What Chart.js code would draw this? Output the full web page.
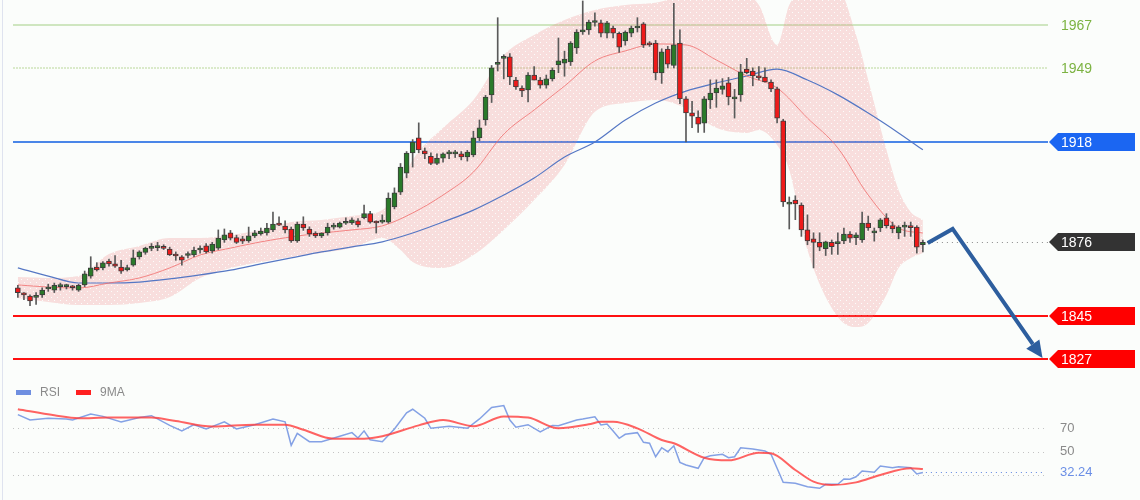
<!DOCTYPE html>
<html>
<head>
<meta charset="utf-8">
<script src="https://cdn.jsdelivr.net/npm/chart.js@4.4.1/dist/chart.umd.min.js"></script>
<style>
  html, body { margin: 0; padding: 0; background: #fbfdfb; }
  #wrap { position: relative; width: 1140px; height: 500px; overflow: hidden; }
  #edge { position: absolute; left: 2px; top: 0; width: 1px; height: 500px; background: #dfe3ef; }
  #priceChart { position: absolute; left: 0; top: 0; }
  #rsiChart { position: absolute; left: 0; top: 372px; }
</style>
</head>
<body>
<div id="wrap">
  <canvas id="priceChart" width="1140" height="372"></canvas>
  <canvas id="rsiChart" width="1140" height="128"></canvas>
  <div id="edge"></div>
</div>
<script>
// --- candles (one per bar, left to right) ---
const opens = [1857,1854.5,1853.5,1853,1854,1856.5,1856,1857.5,1857.5,1857.3,1856,1858.2,1861.9,1865.7,1865.3,1868.2,1867,1865.7,1864.5,1866.5,
  1869.9,1871.8,1873.5,1873.8,1873.8,1873.2,1871,1869.9,1870.5,1870.7,1872.8,1874.5,1872.4,1873.6,1877,1880,1878,1877.5,1876.6,1878.7,
  1879.5,1880,1881.2,1884,1882.8,1881.6,1876.6,1883.7,1881.6,1879.9,1878.7,1879.9,1882.4,1882.4,1884,1884.1,1885,1886.3,1888,1884.5,
  1884.5,1884.5,1890.8,1897,1905,1913.4,1919.7,1914.3,1912,1909,1911.2,1913,1913,1913,1911.7,1912.6,1919.7,1927.2,1937.7,1950.5,
  1953,1953.6,1943.9,1940.6,1939.8,1946,1943.9,1941.8,1944.4,1950.2,1951,1951.5,1957.3,1964,1964.9,1968,1967.8,1963.5,1965.7,1963.5,
  1960.3,1963.5,1965.7,1967.4,1959.4,1959.4,1946.9,1956.9,1950,1959.4,1936,1930.2,1928.4,1925.9,1935.6,1938.5,1940,1942.7,1936,1937.7,
  1948.5,1947.7,1945.6,1945.2,1943.1,1940.2,1926.8,1892,1893.7,1891.6,1881.2,1877.5,1876,1873.4,1876,1875.5,1876.6,1879.5,1878,1877,
  1884.1,1880,1882,1886.3,1883,1880,1882.4,1882.4,1882.4,1875];
const highs = [1858,1855,1854,1855,1857,1858.5,1859,1859,1858.5,1858,1858.5,1864,1870,1867.5,1868,1869,1870.5,1868.5,1866.5,1872.8,
  1872.5,1874,1875.5,1876,1875,1874,1872,1870.5,1872,1874,1874.5,1875.5,1876,1881.2,1881.6,1881,1879,1878.5,1882.4,1881,
  1882,1884,1888.7,1886.7,1885,1882.4,1884.5,1886.7,1882.5,1880.5,1880,1884,1884,1884.5,1886.3,1886.3,1886,1891.6,1889,1885,
  1887.5,1896.7,1898.8,1909,1914,1919,1926,1915.5,1913.5,1913,1913.5,1914.5,1914.5,1914,1914.5,1922.5,1927.2,1937.5,1950,1970,
  1954.5,1955,1945,1941.5,1947,1949.5,1945,1946,1949,1961.5,1956,1960,1965,1977,1969,1972,1969,1968.5,1966.5,1964,
  1964.5,1966.5,1970,1968,1960,1960.5,1957,1958,1976,1964.9,1937,1935,1931,1937,1944,1944,1944.5,1945,1940,1950.5,
  1953,1949,1949.5,1949,1944,1941,1927.5,1895,1895.5,1892.5,1887.5,1880,1880,1876.5,1877,1880,1882,1880.5,1880,1888.7,
  1887,1882,1886,1888,1884.5,1883,1884.5,1884.5,1883,1877];
const lows = [1853,1852,1849.5,1850,1853,1855.5,1855,1856,1856.5,1856,1855.5,1857.5,1861,1864,1864.5,1866,1865.5,1863,1864,1866,
  1869,1871,1872.5,1872.5,1873,1870.5,1868.5,1866.5,1869.5,1870,1871.5,1871.5,1871.5,1873,1876,1877,1875.5,1875.5,1876,1878,
  1879,1879,1880.5,1883,1880,1876,1876,1881,1878.5,1878,1878,1879,1881.5,1882,1883.5,1883.5,1882.5,1885.8,1884,1879.9,
  1884,1884,1890,1896,1903,1907.5,1913.5,1911,1908.5,1908.5,1909.5,1911,1911.5,1910.5,1910,1911.8,1918.5,1925,1934.5,1947.7,
  1944.4,1942,1940,1937,1934.8,1944,1940.5,1940.5,1943.5,1947,1945.5,1950,1955,1963,1963,1966.5,1962,1961.5,1961.5,1955.5,
  1958.5,1962,1964,1957.5,1958,1944,1942.5,1949,1949,1934,1918,1924,1922,1922,1932,1932.5,1938,1933.5,1928,1935,
  1946.5,1941.5,1944,1943,1939,1926,1891,1881.6,1885.5,1878.5,1875,1865.3,1872.5,1870.5,1871,1871,1875.5,1876,1875,1876,
  1881,1876.5,1880.5,1882,1880,1877.5,1878.5,1878.5,1871.5,1872];
const closes = [1855,1854,1851.5,1853.5,1856,1857,1858,1857.6,1857.7,1857,1858,1862.8,1865.3,1864.5,1867.4,1867,1866,1864,1865.5,1869.5,
  1872,1873.6,1873.8,1873.9,1873.5,1870.7,1870.3,1868.5,1870.7,1872.8,1873.4,1872,1875.3,1877.8,1879.1,1877.8,1876,1876.5,1878.7,1880,
  1880.7,1882,1883.7,1883.2,1881.2,1876.6,1883.7,1882,1879.5,1878.7,1879.9,1882.4,1882.6,1884.1,1884.2,1885.4,1883.3,1888,1884.5,1884.1,
  1884.6,1894.5,1896.7,1907.5,1913.4,1918,1914.7,1913,1909,1911.2,1913,1913.2,1913.2,1911.7,1913.8,1919.7,1923.9,1936.8,1949,1951,
  1953.6,1945.2,1941,1939.4,1946,1943.9,1941.8,1944.4,1948.1,1951.9,1952.7,1959.4,1964,1964.9,1968.2,1968.6,1963.5,1967.8,1963.5,1957.7,
  1964,1965.7,1966,1958.6,1958.6,1946.9,1955.7,1950.6,1958.6,1936,1930.2,1928.8,1925.5,1936,1938.5,1940.6,1941.5,1936.8,1936.8,1947.3,
  1947,1945.6,1944.8,1943.1,1940.2,1928,1892.9,1892.8,1892.1,1881.2,1876.6,1876,1874,1876.2,1874.2,1876,1879.5,1877.8,1879.1,1884.1,
  1882,1880.5,1885.4,1883,1881.6,1882.4,1882.6,1882.2,1874,1876];

// --- bollinger band, sampled at these bar positions ---
const bandIdx = [0,5,10,15,20,25,30,35,40,45,50,55,60,63,65,70,75,80,85,90,95,100,105,110,115,120,122,125,127,130,135,138,140,143,145,147,149];
const bandUpper = [1861.5,1861.1,1861.9,1871.1,1874.5,1877.8,1877.8,1879.1,1881.2,1884.5,1885.4,1887.0,1889.5,1900.0,1910.5,1923.9,1935.6,1954.4,1962.8,1969.0,
  1973.2,1975.3,1976.2,1979.5,1980.8,1979.5,1975.3,1958.6,1975.3,1981.6,1981.6,1962.8,1943.9,1914.7,1897.9,1888.7,1885.4];
const bandLower = [1852.7,1851.1,1849.8,1849.8,1850.6,1853.1,1861.1,1865.3,1867.8,1869.9,1871.6,1873.6,1877.8,1872.8,1867.8,1865.3,1870.7,1881.2,1893.7,1908.4,
  1930.6,1934.3,1935.6,1932.2,1923.9,1921.8,1923.0,1916.7,1906.3,1872.8,1844.8,1840.6,1842.3,1854.0,1865.3,1869.5,1871.6];

// --- moving averages, sampled ---
const maIdx = [0,5,10,15,20,25,30,35,40,45,50,55,60,65,70,75,80,85,90,95,100,105,110,115,120,125,130,135,140,145,149];
const maShort = [1858.2,1857.3,1856.9,1859.0,1861.1,1865.3,1870.7,1873.6,1876.2,1878.3,1879.9,1881.2,1882.9,1888.3,1895.8,1905.4,1921.3,1931.4,1941.4,1951.9,
  1956.1,1959.0,1958.6,1952.3,1945.6,1940.6,1928.0,1915.5,1895.8,1882.0,1879.9];
const maLong = [1865.3,1861.9,1859.0,1859.0,1859.4,1860.7,1862.4,1864.4,1867.0,1869.5,1872.0,1874.1,1876.2,1879.9,1884.5,1889.5,1895.8,1902.9,1911.7,1918.0,
  1927.2,1934.3,1939.3,1942.7,1945.6,1948.5,1943.9,1937.7,1930.1,1921.8,1914.7];

// --- levels and projection arrow ---
const levels = [1967, 1949, 1918, 1876, 1845, 1827];
const arrowIdx = [149.8, 153.9, 168.7];
const arrowPrice = [1875.7, 1881.6, 1827.6];

// --- RSI panel ---
const rsiIdx = [0,2,5,8,9,12,14,17,20,22,25,27,29,31,34,36,39,42,44,45,46,48,50,53,55,56,57,58,60,62,
  64,65,67,68,71,74,76,78,80,81,82,84,86,88,89,92,93,95,96,97,98,99,100,102,103,104,105,106,107,108,
  109,110,112,113,114,116,117,118,119,121,123,124,125,126,128,130,132,133,135,136,137,138,139,141,142,144,145,147,148,149];
const rsiVals = [81.7,77.1,78.6,78.0,77.1,82.3,80.2,75.5,79.2,80.8,72.5,67.8,73.1,69.4,75.5,69.4,73.1,78.0,75.5,55.5,65.7,58.6,58.6,63.2,66.3,61.7,67.8,60.2,58.6,69.4,
  83.2,86.3,78.6,70.0,71.8,70.0,78.0,87.8,89.4,77.1,70.9,73.1,66.9,72.5,72.2,77.1,77.9,79.9,72.8,73.7,67.7,61.5,64.9,66.3,58.0,57.2,45.7,53.4,50.0,55.1,
  40.9,38.6,35.8,44.9,46.6,47.8,44.9,45.7,53.4,52.3,50.6,47.8,35.8,23.8,23.0,20.1,18.7,22.1,22.1,26.7,26.5,28.6,33.5,32.4,37.8,36.4,37.2,36.4,31.0,32.24];
const rsiMaIdx = [0,6,10,15,22,26,32,39,44,47,52,57,60,66,70,75,80,84,89,94,96,98,102,106,108,113,117,122,124,128,131,134,138,142,147,149];
const rsiMaVals = [86.3,81.1,78.6,79.2,79.2,76.2,71.5,73.1,73.1,68.8,61.1,61.1,63.2,72.5,77.1,71.8,80.2,79.2,70.0,73.4,75.6,75.6,70.0,60.0,57.2,44.9,42.6,49.1,48.6,34.4,24.4,21.5,23.8,30.1,35.8,35.2];
const rsiLevels = [70, 50, 30];
const rsiLast = 32.24;

// --- styles ---
const X_MIN = -0.8, X_MAX = 169.6;
const FONT = '"Liberation Sans", Arial, sans-serif';
const levelStyle = {
  1967: { line: '#cfe6c0', width: 2, text: '#7cb342' },
  1949: { line: '#cfe4bb', width: 1.5, dash: [2, 1], text: '#7cb342' },
  1918: { line: '#4a86e8', width: 2, tag: '#1b66f2', text: '#ffffff' },
  1876: { line: '#8a8a8a', width: 1, dash: [1, 4], tag: '#333333', text: '#ffffff', fromLast: true },
  1845: { line: '#ff1010', width: 2, tag: '#ff0000', text: '#ffffff' },
  1827: { line: '#ff1010', width: 2, tag: '#ff0000', text: '#ffffff' }
};

const pts = (idx, vals) => idx.map((x, k) => ({ x, y: vals[k] }));

// pink dotted texture for the band
const priceCanvas = document.getElementById('priceChart');
const tex = document.createElement('canvas');
tex.width = 6; tex.height = 6;
const tg = tex.getContext('2d');
tg.fillStyle = 'rgba(240,130,130,0.25)';
tg.fillRect(0, 0, 6, 6);
tg.clearRect(0, 0, 1, 1);
tg.clearRect(3, 3, 1, 1);
const bandFill = priceCanvas.getContext('2d').createPattern(tex, 'repeat');

const priceOverlay = {
    id: 'priceOverlay',
    beforeDatasetsDraw(chart) {
        const { ctx, chartArea, scales: { x, y } } = chart;
        ctx.save();
        levels.forEach(v => {
            const st = levelStyle[v];
            const py = Math.round(y.getPixelForValue(v)) + (st.width === 1 ? 0.5 : 0);
            const x0 = st.fromLast ? x.getPixelForValue(closes.length - 1) + 4 : chartArea.left;
            ctx.strokeStyle = st.line;
            ctx.lineWidth = st.width;
            ctx.setLineDash(st.dash || []);
            ctx.beginPath();
            ctx.moveTo(x0, py);
            ctx.lineTo(chartArea.right, py);
            ctx.stroke();
        });
        ctx.restore();
    },
    afterDatasetsDraw(chart) {
        const { ctx, chartArea, scales: { x, y } } = chart;
        ctx.save();
        // level tags
        ctx.font = '14px ' + FONT;
        ctx.textBaseline = 'middle';
        levels.forEach(v => {
            const st = levelStyle[v];
            const cy = Math.round(y.getPixelForValue(v));
            const left = chartArea.right + 1;
            if (st.tag) {
                ctx.fillStyle = st.tag;
                ctx.beginPath();
                ctx.moveTo(left, cy);
                ctx.lineTo(left + 9, cy - 9);
                ctx.lineTo(chart.width - 5, cy - 9);
                ctx.lineTo(chart.width - 5, cy + 9);
                ctx.lineTo(left + 9, cy + 9);
                ctx.closePath();
                ctx.fill();
            }
            ctx.fillStyle = st.text;
            ctx.fillText(String(v), left + 12, cy + 1);
        });
        // projection arrow
        const p = arrowIdx.map((xi, k) => [x.getPixelForValue(xi), y.getPixelForValue(arrowPrice[k])]);
        const [ex, ey] = p[p.length - 1];
        const [qx, qy] = p[p.length - 2];
        const ang = Math.atan2(ey - qy, ex - qx);
        const headLen = 17, headW = 8;
        const bx = ex - headLen * Math.cos(ang), by = ey - headLen * Math.sin(ang);
        ctx.strokeStyle = '#2d5e9e';
        ctx.fillStyle = '#2d5e9e';
        ctx.lineWidth = 4;
        ctx.lineJoin = 'miter';
        ctx.beginPath();
        ctx.moveTo(p[0][0], p[0][1]);
        for (let k = 1; k < p.length - 1; k++) ctx.lineTo(p[k][0], p[k][1]);
        ctx.lineTo(bx, by);
        ctx.stroke();
        ctx.beginPath();
        ctx.moveTo(ex, ey);
        ctx.lineTo(bx + headW * Math.sin(ang), by - headW * Math.cos(ang));
        ctx.lineTo(bx - headW * Math.sin(ang), by + headW * Math.cos(ang));
        ctx.closePath();
        ctx.fill();
        ctx.restore();
    }
};

new Chart(priceCanvas, {
    type: 'bar',
    data: {
        datasets: [
            {
                type: 'bar',
                data: opens.map((o, i) => ({ x: i, y: [o, closes[i]] })),
                backgroundColor: closes.map((c, i) => c >= opens[i] ? '#2a7a2a' : '#ee1a1a'),
                borderColor: '#3d3d3d',
                borderWidth: 1,
                borderSkipped: false,
                barThickness: 5,
                minBarLength: 2,
                grouped: false,
                order: 1
            },
            {
                type: 'bar',
                data: highs.map((h, i) => ({ x: i, y: [lows[i], h] })),
                backgroundColor: '#5a5a5a',
                barThickness: 1,
                grouped: false,
                order: 2
            },
            {
                type: 'line',
                data: pts(maIdx, maShort),
                borderColor: 'rgba(240,100,100,0.75)',
                borderWidth: 1,
                pointRadius: 0,
                cubicInterpolationMode: 'monotone',
                order: 3
            },
            {
                type: 'line',
                data: pts(maIdx, maLong),
                borderColor: '#5577c4',
                borderWidth: 1.2,
                pointRadius: 0,
                cubicInterpolationMode: 'monotone',
                order: 4
            },
            {
                type: 'line',
                data: pts(bandIdx, bandUpper),
                borderWidth: 0,
                pointRadius: 0,
                backgroundColor: bandFill,
                fill: '+1',
                cubicInterpolationMode: 'monotone',
                order: 5
            },
            {
                type: 'line',
                data: pts(bandIdx, bandLower),
                borderWidth: 0,
                pointRadius: 0,
                fill: false,
                cubicInterpolationMode: 'monotone',
                order: 6
            }
        ]
    },
    options: {
        responsive: false,
        animation: false,
        devicePixelRatio: 1,
        layout: { padding: { left: 13, right: 92, top: 0, bottom: 2 } },
        plugins: { legend: { display: false }, tooltip: { enabled: false } },
        scales: {
            x: { type: 'linear', min: X_MIN, max: X_MAX, offset: false, display: false },
            y: { min: 1822.6, max: 1977.4, display: false }
        }
    },
    plugins: [priceOverlay]
});

// --- RSI panel ---
const rsiOverlay = {
    id: 'rsiOverlay',
    beforeDatasetsDraw(chart) {
        const { ctx, chartArea, scales: { x, y } } = chart;
        ctx.save();
        ctx.lineWidth = 1;
        ctx.setLineDash([1, 4]);
        ctx.strokeStyle = '#c4c4c4';
        rsiLevels.forEach(v => {
            const py = Math.round(y.getPixelForValue(v)) + 0.5;
            ctx.beginPath();
            ctx.moveTo(chartArea.left, py);
            ctx.lineTo(chartArea.right - 3, py);
            ctx.stroke();
        });
        ctx.restore();
    },
    afterDatasetsDraw(chart) {
        const { ctx, chartArea, scales: { x, y } } = chart;
        ctx.save();
        const ly = Math.round(y.getPixelForValue(rsiLast)) + 0.5;
        ctx.setLineDash([1, 4]);
        ctx.strokeStyle = '#5f86e0';
        ctx.lineWidth = 1;
        ctx.beginPath();
        ctx.moveTo(x.getPixelForValue(rsiIdx[rsiIdx.length - 1]) + 3, ly);
        ctx.lineTo(chartArea.right - 3, ly);
        ctx.stroke();
        ctx.setLineDash([]);

        ctx.font = '13px ' + FONT;
        ctx.textBaseline = 'middle';
        ctx.fillStyle = '#8a8a8a';
        rsiLevels.slice(0, 2).forEach(v => {
            ctx.fillText(String(v), chartArea.right + 12, y.getPixelForValue(v));
        });
        ctx.fillStyle = '#6b8fe6';
        ctx.fillText(rsiLast.toFixed(2), chartArea.right + 12, y.getPixelForValue(rsiLast));

        // legend
        ctx.font = '12px ' + FONT;
        ctx.fillStyle = '#6f8fe0';
        ctx.fillRect(16, 18, 15, 5);
        ctx.fillStyle = '#ff2020';
        ctx.fillRect(76, 18, 15, 5);
        ctx.fillStyle = '#8a8a8a';
        ctx.fillText('RSI', 40, 21);
        ctx.fillText('9MA', 100, 21);
        ctx.restore();
    }
};

new Chart(document.getElementById('rsiChart'), {
    type: 'line',
    data: {
        datasets: [
            {
                data: pts(rsiIdx, rsiVals),
                borderColor: 'rgba(110,145,225,0.85)',
                borderWidth: 1.5,
                pointRadius: 0,
                tension: 0,
                order: 2
            },
            {
                data: pts(rsiMaIdx, rsiMaVals),
                borderColor: 'rgba(255,60,60,0.8)',
                borderWidth: 2,
                pointRadius: 0,
                cubicInterpolationMode: 'monotone',
                order: 1
            }
        ]
    },
    options: {
        responsive: false,
        animation: false,
        devicePixelRatio: 1,
        layout: { padding: { left: 13, right: 92, top: 28, bottom: 5 } },
        plugins: { legend: { display: false }, tooltip: { enabled: false } },
        scales: {
            x: { type: 'linear', min: X_MIN, max: X_MAX, display: false },
            y: { min: 13, max: 94.2, display: false }
        }
    },
    plugins: [rsiOverlay]
});
</script>
</body>
</html>
